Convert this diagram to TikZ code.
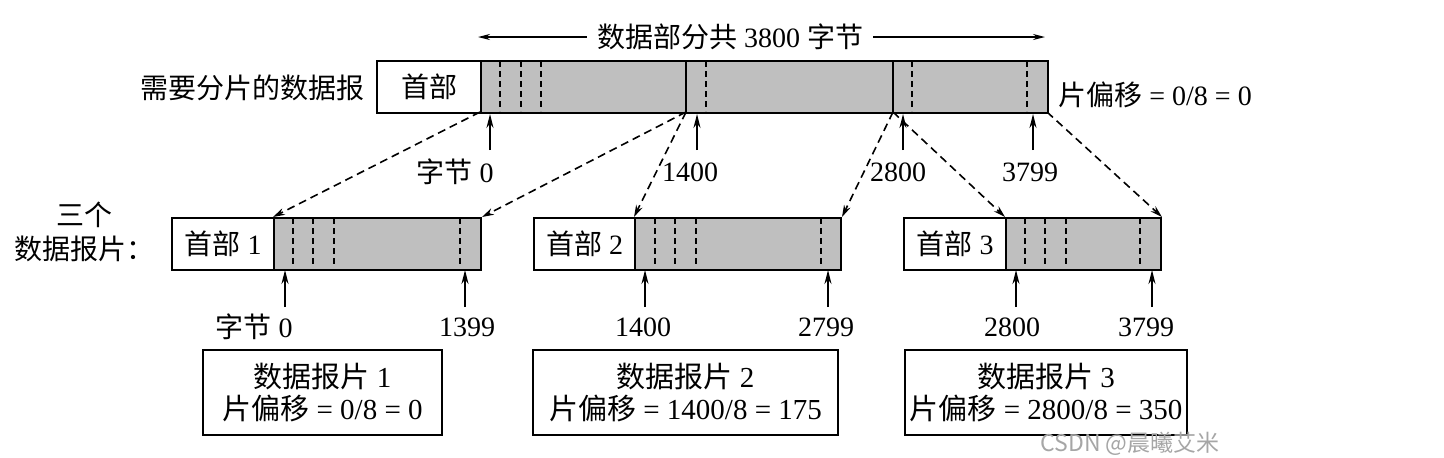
\documentclass[tikz,border=0pt]{standalone}
\usepackage{fontspec}
\setmainfont{Liberation Serif}
\newfontfamily\cjk{Noto Sans CJK SC}
\usetikzlibrary{arrows.meta,calc}
\newcommand\zh[1]{{\cjk #1}}
\begin{document}
\begin{tikzpicture}[x=0.5pt,y=-0.5pt,
  font=\fontsize{14}{16}\selectfont,
  hdrbox/.style={draw, line width=1pt, fill=white, inner sep=0pt, anchor=north west, minimum height=26pt},
  databox/.style={draw, line width=1pt, fill=black!25, inner sep=0pt, anchor=north west, minimum height=26pt},
  innerdash/.style={line width=1pt, dash pattern=on 3pt off 2pt},
  solidsep/.style={line width=0.9pt},
  conn/.style={line width=0.8pt, dash pattern=on 4pt off 2.5pt, -{Stealth[length=6pt,width=3.5pt]}},
  uparr/.style={line width=0.9pt, -{Stealth[length=7pt,width=3.5pt]}},
  dimarr/.style={line width=0.8pt, -{Stealth[length=6pt,width=3pt]}},
  infobox/.style={draw, line width=1pt, align=center, inner sep=0pt, minimum height=42.5pt, font=\fontsize{14.5}{16}\selectfont},
  lbl/.style={inner sep=0pt}
]
\useasboundingbox (0,0) rectangle (1444,457);

% ---------- top dimension arrow ----------
\node[lbl] (total) at (730,37) {\zh{数据部分共} 3800 \zh{字节}};
\coordinate (tl) at (478,37);
\coordinate (tr) at (1045,37);
\draw[dimarr] ($(total.west)+(-10,0)$) -- (tl);
\draw[dimarr] ($(total.east)+(10,0)$) -- (tr);

% ---------- original datagram ----------
\node[lbl, anchor=east] (dglabel) at (365,88) {\zh{需要分片的数据报}};
\node[hdrbox, minimum width=52pt] (h0) at (376,60) {\zh{首部}};
\node[databox, minimum width=283.5pt] (d0) at (480,60) {};
\foreach \x in {500,521,541,706,912,1027}
  \draw[innerdash] (\x,61) -- (\x,111);
\draw[solidsep] (686,60) -- (686,112);
\draw[solidsep] (893,60) -- (893,112);
\node[lbl, anchor=west] (off0) at (1058,95) {\zh{片偏移} = 0/8 = 0};

\coordinate (s0) at (480,112);
\coordinate (s1) at (686,112);
\coordinate (s2) at (893,112);
\coordinate (s3) at (1047,112);

% byte arrows on original
\foreach \n/\x in {a/490,b/697,c/903,d/1033} {
  \coordinate (\n bot) at (\x,150);
  \coordinate (\n top) at (\x,114);
  \draw[uparr] (\n bot) -- (\n top);
}
\node[lbl] (la) at (455,172) {\zh{字节} 0};
\node[lbl] (lb) at (690,172) {1400};
\node[lbl] (lc) at (898,172) {2800};
\node[lbl] (ld) at (1030,172) {3799};

% ---------- fragments ----------
\node[lbl, align=center, font=\fontsize{14}{17}\selectfont] (fraglabel) at (84,232) {\zh{三个}\\\zh{数据报片：}};

\node[hdrbox, minimum width=51pt] (h1) at (171,217) {\zh{首部} 1};
\node[databox, minimum width=103.5pt] (d1) at (273,217) {};
\node[hdrbox, minimum width=50.5pt] (h2) at (533,217) {\zh{首部} 2};
\node[databox, minimum width=103pt] (d2) at (634,217) {};
\node[hdrbox, minimum width=51pt] (h3) at (903,217) {\zh{首部} 3};
\node[databox, minimum width=77.5pt] (d3) at (1005,217) {};

\foreach \x in {293,313,334,460, 655,675,696,821, 1025,1045,1066,1140}
  \draw[innerdash] (\x,218) -- (\x,267);

% dashed mapping connectors
\draw[conn] (s0) -- (d1.north west);
\draw[conn] (s1) -- (d1.north east);
\draw[conn] (s1) -- (d2.north west);
\draw[conn] (s2) -- (d2.north east);
\draw[conn] (s2) -- (d3.north west);
\draw[conn] (s3) -- (d3.north east);

% byte arrows on fragments
\foreach \n/\x in {e/285,f/465,g/645,h/828,i/1016,j/1152} {
  \coordinate (\n bot) at (\x,307);
  \coordinate (\n top) at (\x,270);
  \draw[uparr] (\n bot) -- (\n top);
}
\node[lbl] (le) at (254,327) {\zh{字节} 0};
\node[lbl] (lf) at (467,327) {1399};
\node[lbl] (lg) at (643,327) {1400};
\node[lbl] (lh) at (826,327) {2799};
\node[lbl] (li) at (1012,327) {2800};
\node[lbl] (lj) at (1146,327) {3799};

% ---------- info boxes ----------
\node[infobox, minimum width=119.5pt] (i1) at (322.5,392.5) {\zh{数据报片} 1\\\zh{片偏移} = 0/8 = 0};
\node[infobox, minimum width=152.5pt] (i2) at (685.5,392.5) {\zh{数据报片} 2\\\zh{片偏移} = 1400/8 = 175};
\node[infobox, minimum width=141pt] (i3) at (1046,392.5) {\zh{数据报片} 3\\\zh{片偏移} = 2800/8 = 350};

% watermark
\node[lbl, text=black!35, font=\cjk\fontsize{11.5}{13}\selectfont] (wm) at (1130,444) {CSDN @晨曦艾米};
\end{tikzpicture}
\end{document}
